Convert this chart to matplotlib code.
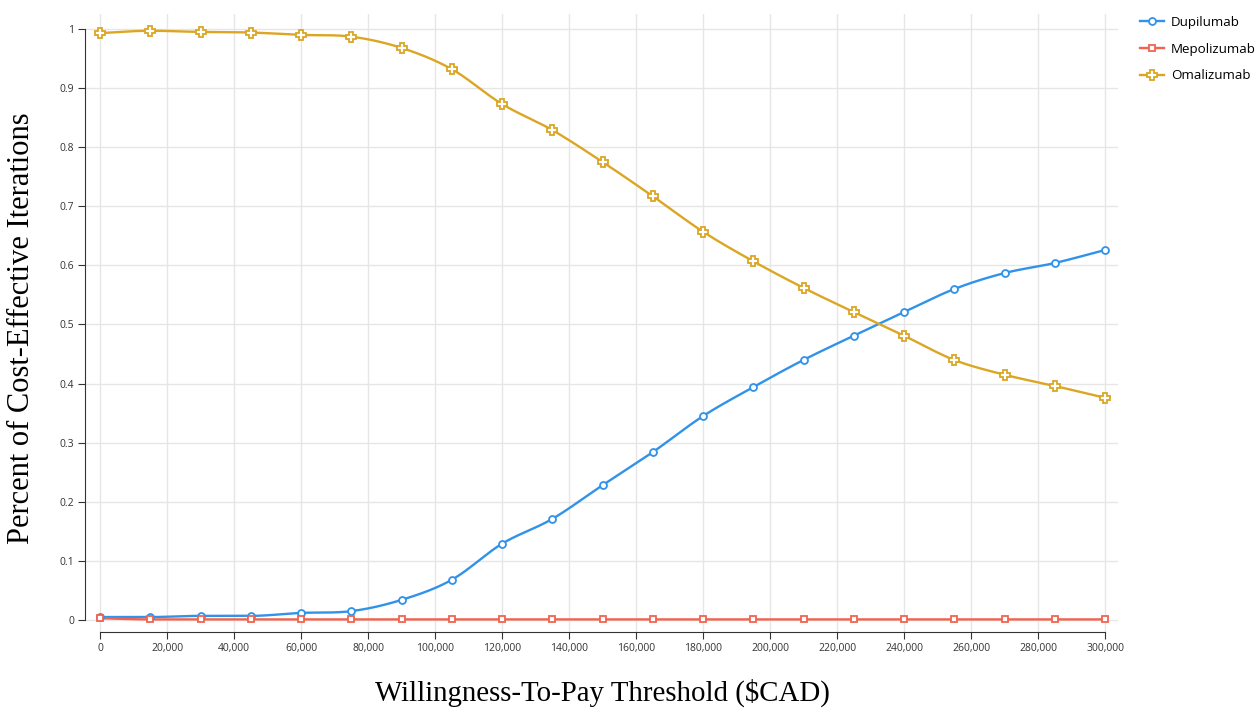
import numpy as np
import matplotlib
matplotlib.use("Agg")
import matplotlib.pyplot as plt
from matplotlib.lines import Line2D

wtp = [0, 15000, 30000, 45000, 60000, 75000, 90000, 105000, 120000, 135000,
       150000, 165000, 180000, 195000, 210000, 225000, 240000, 255000, 270000,
       285000, 300000]
dupilumab = [0.005, 0.005, 0.007, 0.007, 0.012, 0.015, 0.034, 0.068, 0.129, 0.171,
             0.228, 0.284, 0.345, 0.394, 0.440, 0.481, 0.521, 0.560, 0.587, 0.604, 0.626]
mepolizumab = [0.003, 0.001, 0.001, 0.001, 0.001, 0.001, 0.001, 0.001, 0.001, 0.001,
               0.001, 0.001, 0.001, 0.001, 0.001, 0.001, 0.001, 0.001, 0.001, 0.001, 0.001]
omalizumab = [0.993, 0.997, 0.995, 0.994, 0.990, 0.987, 0.968, 0.932, 0.873, 0.829,
              0.775, 0.717, 0.657, 0.607, 0.562, 0.521, 0.481, 0.440, 0.415, 0.396, 0.376]
x_ticks = list(range(0, 300001, 20000))
y_ticks = [0, 0.1, 0.2, 0.3, 0.4, 0.5, 0.6, 0.7, 0.8, 0.9, 1]
y_tick_labels = ["0", "0.1", "0.2", "0.3", "0.4", "0.5", "0.6", "0.7", "0.8", "0.9", "1"]

def smooth(x, y, n=30):
    # cardinal (Catmull-Rom like) cubic for drawing a smooth line through the points
    x = np.asarray(x, float); y = np.asarray(y, float)
    h = np.diff(x); d = np.diff(y) / h
    m = np.zeros_like(y)
    m[0] = d[0]; m[-1] = d[-1]
    for i in range(1, len(y) - 1):
        m[i] = (y[i + 1] - y[i - 1]) / (x[i + 1] - x[i - 1])
        if d[i - 1] * d[i] <= 0:
            m[i] = 0
    xs, ys = [], []
    for i in range(len(h)):
        t = np.linspace(0, 1, n, endpoint=(i == len(h) - 1))
        h00 = 2*t**3 - 3*t**2 + 1; h10 = t**3 - 2*t**2 + t
        h01 = -2*t**3 + 3*t**2; h11 = t**3 - t**2
        xs.append(x[i] + t * h[i])
        ys.append(h00*y[i] + h10*h[i]*m[i] + h01*y[i+1] + h11*h[i]*m[i+1])
    return np.concatenate(xs), np.concatenate(ys)

fig = plt.figure(figsize=(12.59, 7.08), dpi=100)
ax = fig.add_axes([85/1259, 1 - 632/708, (1118-85)/1259, (632-14.2)/708])

series = [
    ("Dupilumab", dupilumab, "#3192e9", "o", 5),
    ("Mepolizumab", mepolizumab, "#f1634e", "s", 4.8),
    ("Omalizumab", omalizumab, "#dba623", "P", 7.5),
]
handles = []
for name, vals, col, mk, ms in series:
    xs, ys = smooth(wtp, vals)
    ax.plot(xs, ys, color=col, lw=1.7, zorder=3)
    ax.plot(wtp, vals, ls="none", marker=mk, ms=ms, mfc="white", mec=col, mew=1.3, zorder=4)
    handles.append(Line2D([0], [0], color=col, lw=1.7, marker=mk, ms=ms, mfc="white", mec=col, mew=1.3))

ax.set_xlim(-4478, 303880)
ax.set_ylim(-0.0203, 1.025)
ax.set_xticks(x_ticks)
ax.set_xticklabels([f"{v:,}" for v in x_ticks], fontsize=7.5, family="Open Sans", color="#333333")
ax.set_yticks(y_ticks)
ax.set_yticklabels(y_tick_labels, fontsize=7.5, family="Open Sans", color="#333333")
ax.grid(True, color="#e6e6e6", lw=1)
ax.set_axisbelow(True)
for s in ["top", "right"]:
    ax.spines[s].set_visible(False)
ax.spines["left"].set_bounds(0, 1)
ax.spines["bottom"].set_bounds(0, 300000)
ax.spines["left"].set_color("#333333")
ax.spines["bottom"].set_color("#333333")
ax.tick_params(axis="both", direction="out", length=5, color="#333333", pad=3)

fig.text(22/1259, 1 - 328/708, "Percent of Cost-Effective Iterations", rotation=90,
         ha="center", va="center", fontsize=22, family="Liberation Serif")
fig.text(602/1259, 1 - 693/708, "Willingness-To-Pay Threshold ($CAD)",
         ha="center", va="center", fontsize=20.8, family="Liberation Serif")

fig.legend(handles, [s[0] for s in series], loc="upper left", bbox_to_anchor=(1128/1259, 1 - 4/708),
           frameon=False, prop={"family": "Open Sans", "size": 9.6}, handlelength=1.8,
           labelspacing=1.02, handletextpad=0.5)

fig.savefig("out.png", dpi=100)
